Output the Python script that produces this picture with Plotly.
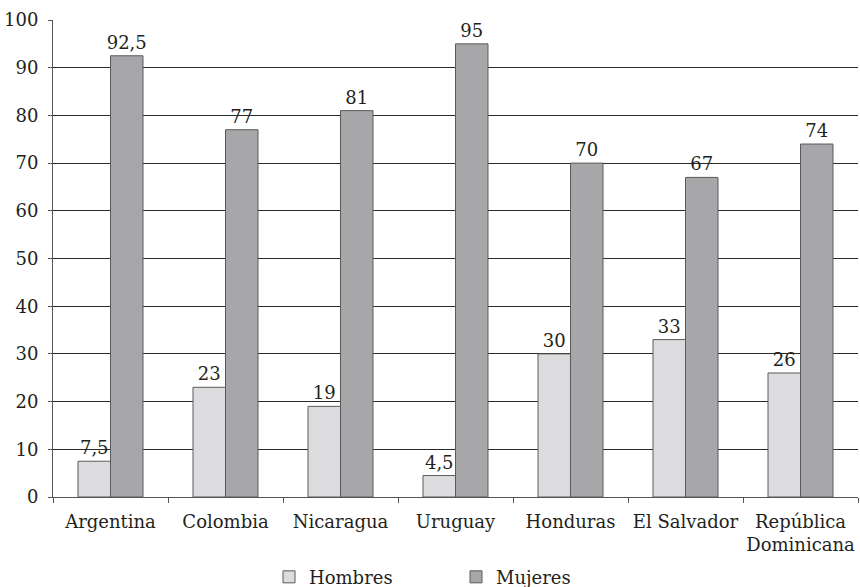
import plotly.graph_objects as go

categories = ["Argentina", "Colombia", "Nicaragua", "Uruguay", "Honduras",
              "El Salvador", "República<br>Dominicana"]
hombres = [7.5, 23, 19, 4.5, 30, 33, 26]
mujeres = [92.5, 77, 81, 95, 70, 67, 74]
y_ticks = [0, 10, 20, 30, 40, 50, 60, 70, 80, 90, 100]


def fmt(v):
    return f"{v:g}".replace(".", ",")


FONT = "DejaVu Serif"
FS = 18
TXT = "#231f20"

fig = go.Figure()
fig.add_trace(go.Bar(
    name="Hombres", x=categories, y=hombres,
    text=[fmt(v) for v in hombres], textposition="outside",
    constraintext="none",
    marker=dict(color="#dcdcde", line=dict(color="#5a5a5a", width=1)),
    cliponaxis=False,
))
fig.add_trace(go.Bar(
    name="Mujeres", x=categories, y=mujeres,
    text=[fmt(v) for v in mujeres], textposition="outside",
    constraintext="none",
    marker=dict(color="#a7a7aa", line=dict(color="#5a5a5a", width=1)),
    cliponaxis=False,
))

fig.update_layout(
    width=860, height=587,
    margin=dict(l=53, r=2, t=20, b=90, autoexpand=False),
    paper_bgcolor="white", plot_bgcolor="white",
    barmode="group", bargap=0.435, bargroupgap=0,
    font=dict(family=FONT, size=FS, color=TXT),
    showlegend=True,
    legend=dict(
        orientation="h", xanchor="left", x=(269 - 53) / 805,
        yanchor="middle", y=-0.168,
        font=dict(family=FONT, size=FS, color=TXT),
        entrywidth=142, entrywidthmode="pixels",
        itemwidth=30, traceorder="normal",
    ),
)
fig.update_traces(textfont=dict(family=FONT, size=FS, color=TXT))

fig.update_xaxes(
    showline=True, linecolor="#555555", linewidth=1,
    ticks="outside", tickson="boundaries", ticklen=5, tickcolor="#555555",
    showgrid=False, ticklabelstandoff=8, tickangle=0,
    tickfont=dict(family=FONT, size=FS, color=TXT),
)
fig.update_yaxes(
    range=[0, 100], tickvals=y_ticks,
    showline=True, linecolor="#555555", linewidth=1,
    ticks="outside", ticklen=4, tickcolor="#555555",
    showgrid=True, gridcolor="#2a2a2a", gridwidth=1,
    zeroline=False, ticklabelstandoff=6,
    tickfont=dict(family=FONT, size=FS, color=TXT),
)

fig.write_html(
    "out.html",
    config={"displayModeBar": False},
    post_script="document.body.style.margin='0';document.body.style.overflow='hidden';",
)
